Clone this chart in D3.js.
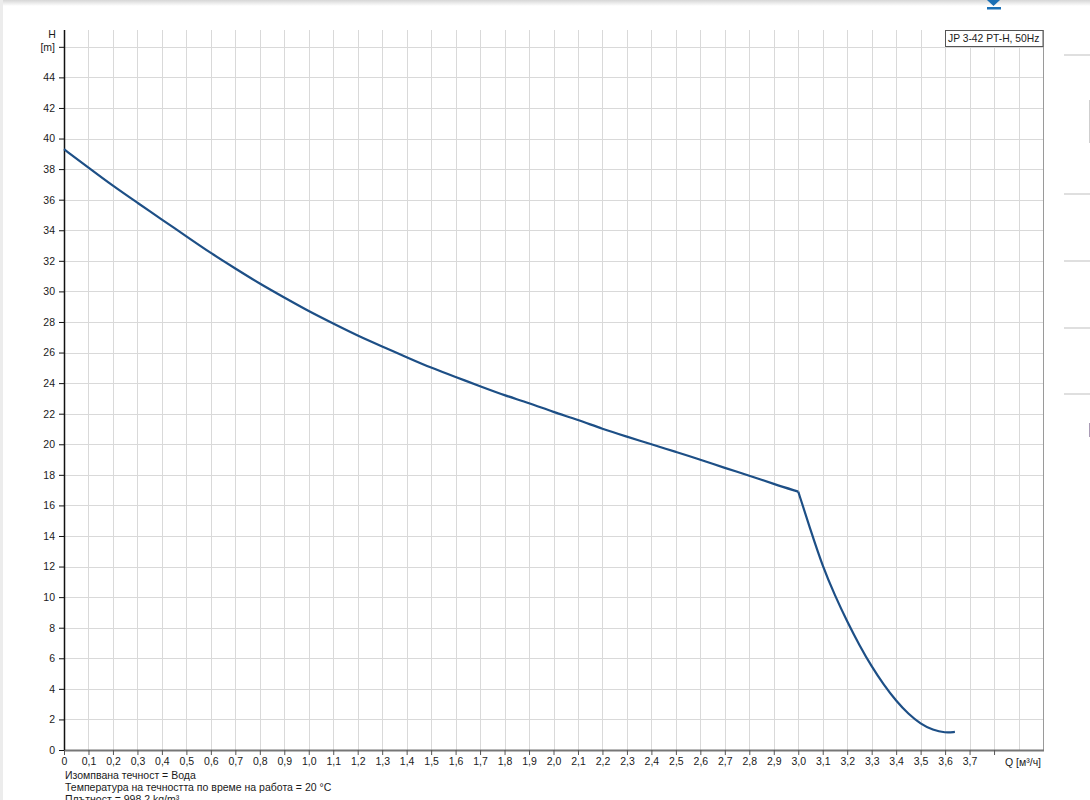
<!DOCTYPE html>
<html>
<head>
<meta charset="utf-8">
<script src="https://cdn.jsdelivr.net/npm/d3@7"></script>
<style>
    body { margin: 0; background: #fff; font-family: "Liberation Sans", Arial, sans-serif; }
    #main { position: relative; width: 1090px; height: 800px; overflow: hidden; }
</style>
</head>
<body>
<div id="main"></div>
<script>
// pump curve
let flowQ = [0, 0.1, 0.2, 0.3, 0.4, 0.5, 0.6, 0.7, 0.8, 0.9, 1.0, 1.1, 1.2, 1.3, 1.4, 1.5, 1.6, 1.7, 1.8, 1.9, 2.0,
             2.1, 2.2, 2.3, 2.4, 2.5, 2.6, 2.7, 2.8, 2.9, 3.0]
let headH = [39.3, 38.1, 36.9, 35.8, 34.7, 33.6, 32.5, 31.5, 30.5, 29.6, 28.7, 27.9, 27.1, 26.4, 25.7, 25.0, 24.4, 23.8, 23.2, 22.7, 22.1,
             21.6, 21.0, 20.5, 20.0, 19.5, 19.0, 18.45, 17.95, 17.4, 16.9]
let tailQ = [3.0, 3.05, 3.1, 3.15, 3.2, 3.25, 3.3, 3.35, 3.4, 3.45, 3.5, 3.55, 3.6, 3.64]
let tailH = [16.9, 14.4, 12.0, 10.1, 8.4, 6.85, 5.45, 4.25, 3.2, 2.35, 1.7, 1.3, 1.12, 1.18]

let xTicks = d3.range(0, 38).map((i) => i / 10)
let yTicks = d3.range(0, 47, 2)
let legendLabel = "JP 3-42 PT-H, 50Hz"
let notes = ["Изомпвана течност = Вода",
             "Температура на течността по време на работа = 20 °C",
             "Плътност = 998,2 kg/m³"]

let plotLeft = 64, plotRight = 1043, plotTop = 30, plotBottom = 750
let fontSize = '10.5px'

let svg = d3.select('#main')
            .append('svg')
            .attr('width', 1090)
            .attr('height', 800)
            .style('font-family', '"Liberation Sans", Arial, sans-serif')

let xScale = d3.scaleLinear().domain([0, 4.0]).range([plotLeft, plotRight])
let yScale = d3.scaleLinear().domain([0, 47.1]).range([plotBottom, plotTop])

// page bits around the chart
let shade = svg.append('defs').append('linearGradient')
               .attr('id', 'shade').attr('x1', 0).attr('x2', 0).attr('y1', 0).attr('y2', 1)
shade.append('stop').attr('offset', '0%').attr('stop-color', '#d6d6d6')
shade.append('stop').attr('offset', '100%').attr('stop-color', '#ffffff')
svg.append('rect').attr('x', 0).attr('y', 0).attr('width', 1090).attr('height', 6).style('fill', 'url(#shade)')
svg.append('rect').attr('x', 0).attr('y', 0).attr('width', 3).attr('height', 800).style('fill', '#ececec')

svg.append('path')
    .attr('d', 'M987,0 L1000,0 L993.5,6 Z')
    .style('fill', '#1a6fb5')
svg.append('rect').attr('x', 987).attr('y', 7).attr('width', 14).attr('height', 2.5).style('fill', '#1a6fb5')

svg.selectAll('.side')
    .data([55, 194, 261, 328, 394])
    .enter()
    .append('line')
    .classed('side', true)
    .attr('x1', 1064).attr('x2', 1090)
    .attr('y1', (d) => d).attr('y2', (d) => d)
    .style('stroke', '#d4d4d4')
    .style('stroke-width', 1.5)
svg.append('line').attr('x1', 1089.5).attr('x2', 1089.5).attr('y1', 100).attr('y2', 143).style('stroke', '#cfcfcf')
svg.append('line').attr('x1', 1089.5).attr('x2', 1089.5).attr('y1', 423).attr('y2', 437).style('stroke', '#a99bb5')

// grid
svg.append('g')
    .selectAll('line')
    .data(d3.range(1, 40).map((i) => i / 10))
    .enter()
    .append('line')
    .attr('x1', (d) => Math.round(xScale(d)) + 0.5)
    .attr('x2', (d) => Math.round(xScale(d)) + 0.5)
    .attr('y1', plotTop)
    .attr('y2', plotBottom)
    .style('stroke', '#d9d9d9')

svg.append('g')
    .selectAll('line')
    .data(yTicks.filter((d) => d > 0))
    .enter()
    .append('line')
    .attr('x1', plotLeft)
    .attr('x2', plotRight)
    .attr('y1', (d) => Math.round(yScale(d)) + 0.5)
    .attr('y2', (d) => Math.round(yScale(d)) + 0.5)
    .style('stroke', '#d9d9d9')

svg.append('line')
    .attr('x1', plotRight + 0.5).attr('x2', plotRight + 0.5)
    .attr('y1', plotTop).attr('y2', plotBottom)
    .style('stroke', '#9a9a9a')

// axes
let yAxis = d3.axisLeft(yScale)
              .tickValues(yTicks)
              .tickSize(5)
              .tickPadding(4)
              .tickFormat((d) => d === 46 ? "[m]" : d)

let xAxis = d3.axisBottom(xScale)
              .tickValues(xTicks.concat([3.8]))
              .tickSize(5)
              .tickPadding(3)
              .tickFormat((d) => {
                  if (d === 0) return "0"
                  if (d > 3.75) return ""
                  return d.toFixed(1).replace(".", ",")
              })

let gx = svg.append('g')
    .call(xAxis)
    .attr('id', 'x-axis')
    .attr('transform', `translate(0, ${plotBottom})`)
gx.select('.domain').attr('d', `M${plotLeft},0.5H${plotRight + 1}`).style('stroke', '#777').style('stroke-width', 2)
gx.selectAll('.tick line').style('stroke', '#555')
gx.selectAll('text').style('font-size', fontSize).style('fill', '#1a1a1a').style('font-family', '"Liberation Sans", Arial, sans-serif')

let gy = svg.append('g')
    .call(yAxis)
    .attr('id', 'y-axis')
    .attr('transform', `translate(${plotLeft}, 0)`)
gy.select('.domain').attr('d', `M0.5,${plotTop}V${plotBottom}`).style('stroke', '#111').style('stroke-width', 1.5)
gy.selectAll('.tick line').style('stroke', '#111')
gy.selectAll('text').style('font-size', fontSize).style('fill', '#1a1a1a').style('font-family', '"Liberation Sans", Arial, sans-serif')

svg.append('text')
    .attr('x', 52)
    .attr('y', 38)
    .style('text-anchor', 'middle')
    .style('font-size', fontSize)
    .style('fill', '#1a1a1a')
    .text('H')

svg.append('text')
    .attr('x', 1005)
    .attr('y', 766)
    .style('font-size', fontSize)
    .style('fill', '#1a1a1a')
    .text('Q [м³/ч]')

// curve
let line = d3.line()
             .x((d) => xScale(d[0]))
             .y((d) => yScale(d[1]))
             .curve(d3.curveBasis)

let segments = [d3.zip(flowQ, headH), d3.zip(tailQ, tailH)]

svg.selectAll('.curve')
    .data(segments)
    .enter()
    .append('path')
    .classed('curve', true)
    .attr('d', line)
    .style('fill', 'none')
    .style('stroke', '#1d4f86')
    .style('stroke-width', 2.2)
    .style('stroke-linejoin', 'round')

// legend box
let legend = svg.append('g').attr('id', 'legend')
legend.append('rect')
    .attr('x', 945.5)
    .attr('y', 30.5)
    .attr('width', plotRight - 945.5)
    .attr('height', 16)
    .style('fill', '#fff')
    .style('stroke', '#555')
legend.append('text')
    .attr('x', 948)
    .attr('y', 42)
    .style('font-size', '10.3px')
    .style('fill', '#1a1a1a')
    .text(legendLabel)

// notes under the chart
svg.selectAll('.note')
    .data(notes)
    .enter()
    .append('text')
    .classed('note', true)
    .attr('x', 65)
    .attr('y', (d, i) => 779 + i * 12)
    .style('font-size', fontSize)
    .style('fill', '#1a1a1a')
    .text((d) => d)
</script>
</body>
</html>
